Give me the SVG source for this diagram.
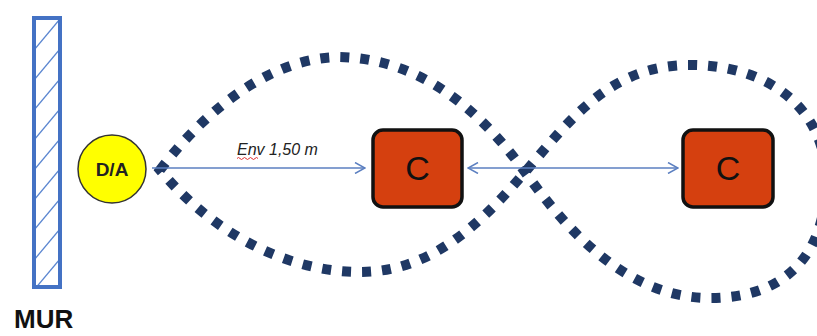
<svg xmlns="http://www.w3.org/2000/svg" width="817" height="336" viewBox="0 0 817 336">
<style>
.lbl{font-family:"Liberation Sans",Arial,sans-serif;}
.box{fill:#D5400F;stroke:#111;stroke-width:3.5;}
.conn{stroke:#5B7FC0;stroke-width:1.5;fill:none;}
.hatch{stroke:#5B86D0;stroke-width:1.3;}
</style>
<defs>
<marker id="ah" viewBox="0 0 12 12" refX="11" refY="6" markerWidth="12" markerHeight="12" markerUnits="userSpaceOnUse" orient="auto-start-reverse">
<path d="M1,0.5 L11,6 L1,11.5" fill="none" stroke="#5B7FC0" stroke-width="1.5"/>
</marker>
<clipPath id="wallclip"><rect x="34" y="18" width="26" height="269"/></clipPath>
</defs>
<rect width="817" height="336" fill="#fff"/>
<g id="wall">
<g clip-path="url(#wallclip)" class="hatch">
<line x1="34" y1="50" x2="60" y2="19"/>
<line x1="34" y1="80" x2="60" y2="49"/>
<line x1="34" y1="110" x2="60" y2="79"/>
<line x1="34" y1="140" x2="60" y2="109"/>
<line x1="34" y1="170" x2="60" y2="139"/>
<line x1="34" y1="200" x2="60" y2="169"/>
<line x1="34" y1="230" x2="60" y2="199"/>
<line x1="34" y1="260" x2="60" y2="229"/>
<line x1="34" y1="290" x2="60" y2="259"/>
<line x1="34" y1="320" x2="60" y2="289"/>
</g>
<rect x="34" y="18" width="26" height="269" fill="none" stroke="#4472C4" stroke-width="4"/>
<text class="lbl" x="14" y="328" font-size="26" font-weight="bold" fill="#111">MUR</text>
</g>
<g id="path-loop">
<path d="M160,170 C210,104 275,58 338,57 C420,58 480,110 525,172 C570,235 630,298 710,298 C790,298 826,250 826,180 C826,110 770,65 690,65 C610,65 570,120 525,172 C480,225 430,272 360,272 C290,272 215,236 160,170 Z" fill="none" stroke="#1F3864" stroke-width="10" stroke-dasharray="9 11"/>
</g>
<g id="connectors">
<line class="conn" x1="152" y1="168" x2="365" y2="168" marker-end="url(#ah)"/>
<line class="conn" x1="468" y1="168" x2="678" y2="168" marker-start="url(#ah)" marker-end="url(#ah)"/>
<text class="lbl" x="237" y="155" font-size="16" font-style="italic" fill="#222">Env 1,50 m</text>
<path d="M237,158.5 q1.5,-2 3,0 t3,0 t3,0 t3,0 t3,0 t3,0 t3,0" fill="none" stroke="#E03030" stroke-width="1"/>
</g>
<g id="da">
<circle cx="112" cy="169" r="34" fill="#FFFF00" stroke="#333" stroke-width="1.5"/>
<text class="lbl" x="112" y="176" font-size="19" font-weight="bold" text-anchor="middle" fill="#222">D/A</text>
</g>
<g id="c1">
<rect class="box" x="373" y="130" width="89" height="77" rx="10"/>
<text class="lbl" x="417.5" y="180" font-size="34" text-anchor="middle" fill="#111">C</text>
</g>
<g id="c2">
<rect class="box" x="683" y="130" width="90" height="77" rx="10"/>
<text class="lbl" x="728" y="180" font-size="34" text-anchor="middle" fill="#111">C</text>
</g>
</svg>
